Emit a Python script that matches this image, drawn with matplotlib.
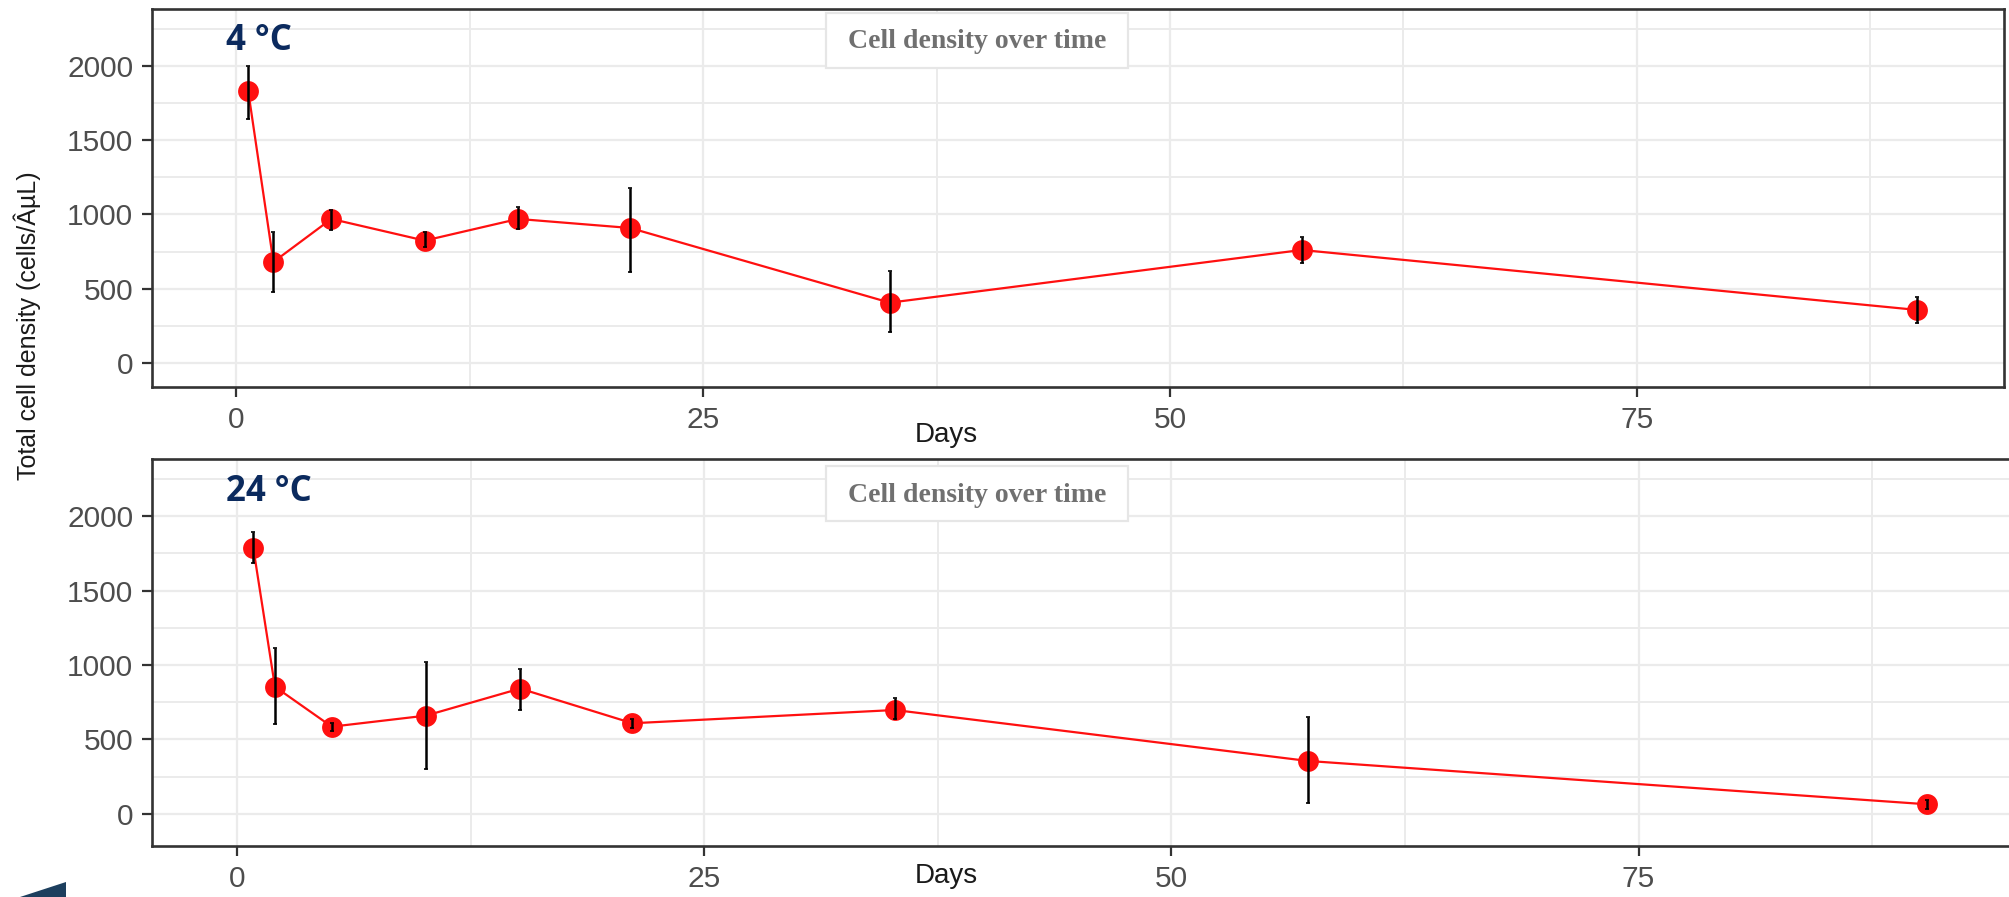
import matplotlib
matplotlib.use("Agg")
import matplotlib.pyplot as plt
from matplotlib.patches import Rectangle, Polygon
from matplotlib.ticker import MultipleLocator

# ---------------- data ----------------
days_4c = [0.65, 2.0, 5.1, 10.1, 15.1, 21.1, 35.0, 57.05, 90.0]
dens_4c = [1832, 680, 970, 824, 970, 909, 406, 761, 357]
err_lo_4c = [189, 202, 74, 41, 68, 295, 199, 91, 86]
err_hi_4c = [168, 202, 60, 60, 83, 271, 214, 85, 89]

days_24c = [0.87, 2.03, 5.07, 10.1, 15.15, 21.16, 35.2, 57.3, 90.45]
dens_24c = [1787, 854, 586, 660, 842, 609, 698, 356, 65]
err_lo_24c = [100, 250, 26, 358, 144, 29, 62, 284, 30]
err_hi_24c = [107, 262, 24, 358, 131, 31, 83, 293, 30]

panel_titles = ["4 °C", "24 °C"]
legend_text = "Cell density over time"
x_label = "Days"
y_label = "Total cell density (cells/ÂµL)"
x_ticks = [0, 25, 50, 75]
y_ticks = [0, 500, 1000, 1500, 2000]

# ---------------- layout ----------------
W, H = 2009, 897
DPI = 100
fig = plt.figure(figsize=(W / DPI, H / DPI), dpi=DPI)
fig.patch.set_facecolor("white")

def fx(px):
    return px / W

def fy(py):
    return 1 - py / H

def make_ax(left, top, right, bottom):
    return fig.add_axes([fx(left), fy(bottom), fx(right) - fx(left), fy(top) - fy(bottom)])

ax1 = make_ax(152, 9, 2004, 387)
ax2 = make_ax(152, 459, 2030, 846)

panels = [
    (ax1, days_4c, dens_4c, err_lo_4c, err_hi_4c, (-4.5, 94.65), (-162, 2384)),
    (ax2, days_24c, dens_24c, err_lo_24c, err_hi_24c, (-4.55, 95.95), (-215, 2383)),
]

tick_color = "#4d4d4d"
spine_color = "#333333"
grid_color = "#ebebeb"

for ax, d, v, lo, hi, xl, yl in panels:
    ax.set_xlim(*xl)
    ax.set_ylim(*yl)
    ax.xaxis.set_major_locator(MultipleLocator(25))
    ax.xaxis.set_minor_locator(MultipleLocator(12.5))
    ax.yaxis.set_major_locator(MultipleLocator(500))
    ax.yaxis.set_minor_locator(MultipleLocator(250))
    ax.set_xticks(x_ticks)
    ax.set_yticks(y_ticks)
    ax.grid(True, which="major", color=grid_color, lw=1.6, zorder=0)
    ax.grid(True, which="minor", color=grid_color, lw=1.4, zorder=0)
    ax.set_axisbelow(True)
    ax.tick_params(axis="both", which="major", direction="out", length=7.5, width=1.6,
                   color=spine_color, labelsize=21.5, labelcolor=tick_color)
    ax.tick_params(axis="x", which="major", pad=6)
    ax.tick_params(axis="y", which="major", pad=6)
    ax.tick_params(axis="both", which="minor", length=0)
    for lab in ax.get_xticklabels() + ax.get_yticklabels():
        lab.set_fontfamily("Liberation Sans")
    for s in ax.spines.values():
        s.set_color(spine_color)
        s.set_linewidth(1.9)
    ax.plot(d, v, color="#ff1010", lw=1.6, zorder=3)
    ax.plot(d, v, "o", color="#ff1010", ms=15, mec="none", zorder=4)
    ax.errorbar(d, v, yerr=[lo, hi], fmt="none", ecolor="black", elinewidth=1.8,
                capsize=1.2, capthick=1.2, zorder=5)

ax2.spines["right"].set_visible(False)

# panel titles
for txt, py in zip(panel_titles, [41, 492]):
    fig.text(fx(226), fy(py), txt, fontsize=25, fontweight="bold", color="#0b2a5e",
             family="Open Sans", ha="left", va="center")

# legend-like boxes
for top in [13, 466]:
    rect = Rectangle((fx(826), fy(top + 55)), fx(1128) - fx(826), fy(top) - fy(top + 55),
                     transform=fig.transFigure, facecolor="white", edgecolor="#e6e6e6",
                     lw=1.6, zorder=10)
    fig.patches.append(rect)
    fig.text(fx(977), fy(top + 29), legend_text, fontsize=20, fontweight="bold",
             color="#707070", family="Liberation Serif", ha="center", va="center", zorder=11)

# x labels
for py in [435, 876]:
    fig.text(fx(946), fy(py), x_label, fontsize=20, color="#1a1a1a",
             family="Liberation Sans", ha="center", va="center")

# y label
fig.text(fx(27), fy(326), y_label, fontsize=18, color="#1a1a1a", family="Liberation Sans",
         rotation=90, ha="center", va="center")

# decorative corner shape
poly = Polygon([(fx(20), fy(897)), (fx(66), fy(882)), (fx(66), fy(897))],
               closed=True, transform=fig.transFigure, facecolor="#1d3f5e",
               edgecolor="none", zorder=12)
fig.patches.append(poly)

fig.savefig("out.png", dpi=DPI)
